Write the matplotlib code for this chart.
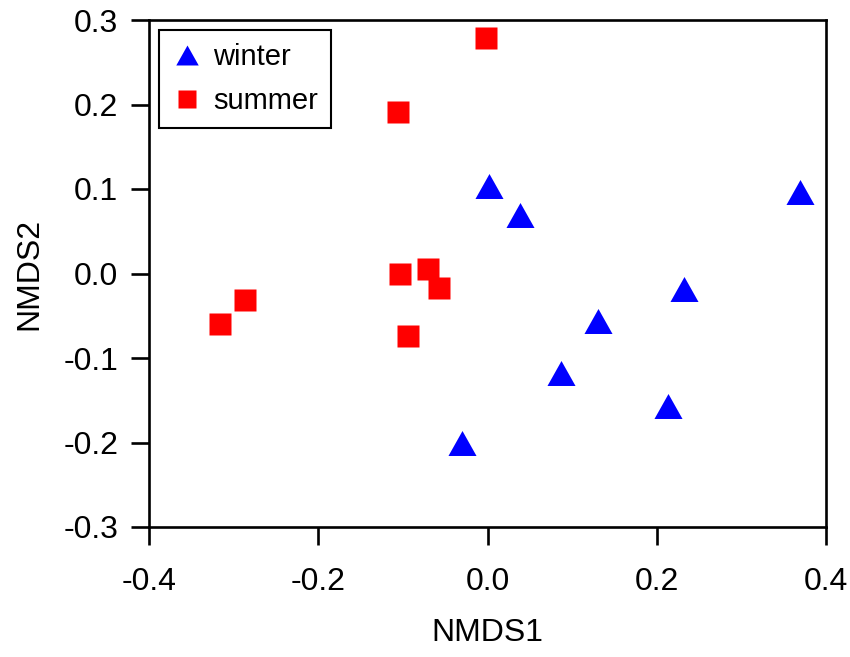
import matplotlib
matplotlib.use("Agg")
import matplotlib.pyplot as plt
from matplotlib.path import Path

plt.rcParams["font.family"] = ["Liberation Sans", "DejaVu Sans"]

# NMDS scores
winter_x = [0.002, 0.038, 0.087, -0.030, 0.232, 0.130, 0.213, 0.369]
winter_y = [0.103, 0.069, -0.118, -0.200, -0.018, -0.056, -0.157, 0.096]
summer_x = [-0.287, -0.316, -0.002, -0.106, -0.103, -0.070, -0.057, -0.094]
summer_y = [-0.031, -0.060, 0.279, 0.191, -0.001, 0.005, -0.017, -0.074]

x_ticks = [-0.4, -0.2, 0.0, 0.2, 0.4]
y_ticks = [-0.3, -0.2, -0.1, 0.0, 0.1, 0.2, 0.3]

# slightly squat triangle, like the original
tri = Path([(-1, -0.89), (1, -0.89), (0, 0.89), (-1, -0.89)],
           [Path.MOVETO, Path.LINETO, Path.LINETO, Path.CLOSEPOLY])

fig = plt.figure(figsize=(8.5, 6.57), dpi=100)
ax = fig.add_axes([149 / 850, 1 - 527 / 657, 677 / 850, 507 / 657])

ax.plot(winter_x, winter_y, linestyle="none", marker=tri, ms=20.2,
        mec="none", color="#0000ff", label="winter")
ax.plot(summer_x, summer_y, linestyle="none", marker="s", ms=15.8,
        mec="none", color="#ff0000", label="summer")

ax.set_xlim(-0.4, 0.4)
ax.set_ylim(-0.3, 0.3)
ax.set_xticks(x_ticks, [f"{v:.1f}" for v in x_ticks])
ax.set_yticks(y_ticks, [f"{v:.1f}" for v in y_ticks])
ax.tick_params(direction="out", length=13, width=1.9, labelsize=23,
               color="black")
ax.tick_params(axis="x", pad=16)
ax.tick_params(axis="y", pad=9)
for sp in ax.spines.values():
    sp.set_linewidth(1.9)
    sp.set_color("black")

ax.set_xlabel("NMDS1", fontsize=23, labelpad=15)
ax.set_ylabel("NMDS2", fontsize=23, labelpad=14)

leg = ax.legend(loc="upper left", bbox_to_anchor=(0.0148, 0.980),
                borderaxespad=0, fontsize=21, markerscale=0.8,
                frameon=True, fancybox=False, edgecolor="black",
                framealpha=1, handlelength=1.0, handletextpad=0.4,
                borderpad=0.45, labelspacing=0.55)
leg.get_frame().set_linewidth(1.5)

fig.savefig("out.png", dpi=100)
